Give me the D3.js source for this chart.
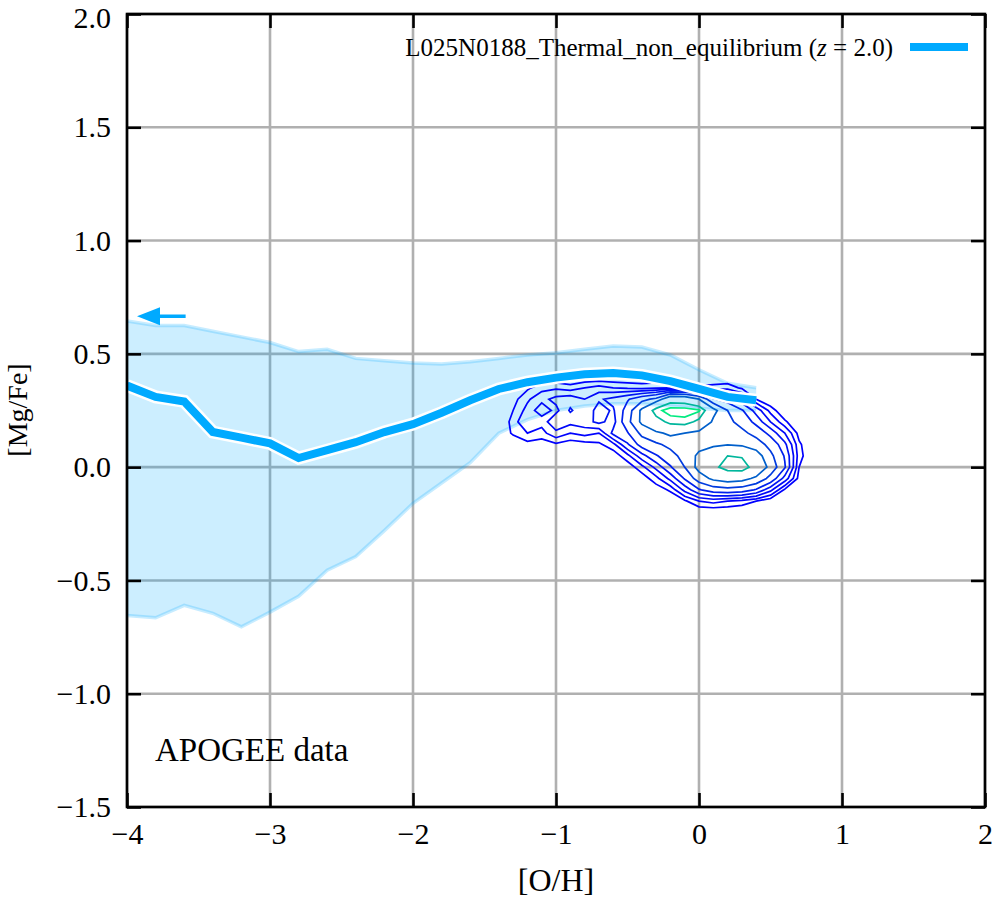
<!DOCTYPE html>
<html><head><meta charset="utf-8">
<script src="https://cdn.jsdelivr.net/npm/d3@7"></script>
<style>
body{margin:0;background:#fff}
svg{display:block}
text{font-family:"Liberation Serif","Times New Roman",serif;fill:#000}
</style>
</head><body>
<svg id="chart" width="996" height="900"></svg>
<script>
// ---- data ----
const ohBins = [-4.0,-3.8,-3.6,-3.4,-3.2,-3.0,-2.8,-2.6,-2.4,-2.2,-2.0,-1.8,-1.6,-1.4,-1.2,-1.0,-0.8,-0.6,-0.4,-0.2,0.0,0.2,0.4];
const mgfeMedian = [0.36,0.31,0.29,0.155,0.13,0.105,0.04,0.075,0.11,0.155,0.19,0.24,0.295,0.345,0.375,0.395,0.41,0.415,0.405,0.38,0.345,0.31,0.295];
const mgfeUpper  = [0.645,0.625,0.625,0.60,0.575,0.55,0.51,0.52,0.48,0.47,0.46,0.455,0.465,0.48,0.495,0.505,0.52,0.535,0.53,0.495,0.43,0.37,0.35];
const mgfeLower  = [-0.655,-0.665,-0.61,-0.645,-0.705,-0.64,-0.57,-0.455,-0.395,-0.28,-0.16,-0.07,0.02,0.15,0.21,0.25,0.27,0.28,0.28,0.27,0.26,0.25,0.25];

const xTicks = [-4,-3,-2,-1,0,1,2];
const yTicks = [-1.5,-1.0,-0.5,0.0,0.5,1.0,1.5,2.0];

// APOGEE density grid: columns [O/H] = -1.4 .. 0.8 (step 0.1), rows [Mg/Fe] = 0.45 .. -0.25 (step -0.05)
const apogeeOH0 = -1.4, apogeeDOH = 0.1, apogeeMg0 = 0.45, apogeeDMg = -0.05;
const apogeeDensity = [
  [0,0,0,0,0,0,0,0,0,0,0,0,0,0,0,0,0,0,0,0,0,0,0],
  [0,0,0,0,0,0,0,0,0,0,0,0,0,0,0,0,0,0,0,0,0,0,0],
  [0,0,4,8,9,7,10,12,10,9,8,9,10,8,6,7,8,4,0,0,0,0,0],
  [0,3,9,14,18,20,16,22,25,30,38,45,70,68,55,32,26,18,5,0,0,0,0],
  [0,5,12,20,14,24,18,26,22,35,58,88,100,100,95,60,42,32,20,8,0,0,0],
  [0,7,16,12,22,18,20,25,20,38,58,72,85,88,75,52,45,38,28,16,6,0,0],
  [0,6,10,8,14,10,12,10,25,30,45,52,58,55,50,48,47,45,38,28,16,3,0],
  [0,0,3,2,4,2,3,4,8,22,35,40,45,50,50,52,54,52,48,38,25,6,0],
  [0,0,0,0,0,0,0,0,2,8,20,30,38,46,58,68,80,78,62,45,30,7,0],
  [0,0,0,0,0,0,0,0,0,2,8,18,30,42,60,75,88,90,70,50,32,5,0],
  [0,0,0,0,0,0,0,0,0,0,2,8,18,32,48,58,62,60,52,38,20,3,0],
  [0,0,0,0,0,0,0,0,0,0,0,2,6,18,30,36,38,36,30,18,4,0,0],
  [0,0,0,0,0,0,0,0,0,0,0,0,0,4,10,12,10,8,5,1,0,0,0],
  [0,0,0,0,0,0,0,0,0,0,0,0,0,0,0,0,0,0,0,0,0,0,0],
  [0,0,0,0,0,0,0,0,0,0,0,0,0,0,0,0,0,0,0,0,0,0,0]
];
const contourLevels = [5,10,16,23,31,42,55,80,93];

const limitArrow = {y:0.666, from:-3.59, to:-3.93};
const legendLabel = "L025N0188_Thermal_non_equilibrium";
const legendRedshift = "2.0";

// ---- layout ----
const L = 127, R = 985, T = 14, B = 807;
const svg = d3.select("#chart");
const x = d3.scaleLinear().domain([-4,2]).range([L,R]);
const y = d3.scaleLinear().domain([-1.5,2]).range([B,T]);
const blue = "#00aaff";

svg.append("defs").append("clipPath").attr("id","clip")
  .append("rect").attr("x",L).attr("y",T).attr("width",R-L).attr("height",B-T);

// grid
const grid = svg.append("g");
grid.selectAll("line.gx").data(xTicks).join("line")
  .attr("x1",d=>x(d)).attr("x2",d=>x(d)).attr("y1",T).attr("y2",B)
  .attr("stroke","#b0b0b0").attr("stroke-width",2.6);
grid.selectAll("line.gy").data(yTicks).join("line")
  .attr("y1",d=>y(d)).attr("y2",d=>y(d)).attr("x1",L).attr("x2",R)
  .attr("stroke","#b0b0b0").attr("stroke-width",2.6);

const plot = svg.append("g").attr("clip-path","url(#clip)");

// band
const idx = d3.range(ohBins.length);
plot.append("path").datum(idx)
  .attr("d", d3.area().x(i=>x(ohBins[i])).y0(i=>y(mgfeLower[i])).y1(i=>y(mgfeUpper[i])))
  .attr("fill",blue).attr("fill-opacity",0.2);
[mgfeUpper, mgfeLower].forEach(arr=>{
  plot.append("path").datum(idx)
    .attr("d", d3.line().x(i=>x(ohBins[i])).y(i=>y(arr[i])))
    .attr("fill","none").attr("stroke",blue).attr("stroke-opacity",0.22).attr("stroke-width",3.5);
});

// contours
const ny = apogeeDensity.length, nx = apogeeDensity[0].length;
const flat = apogeeDensity.flat();
const cont = d3.contours().size([nx,ny]).thresholds(contourLevels)(flat);
const proj = d3.geoTransform({point:function(cx,cy){
  this.stream.point(x(apogeeOH0 + (cx-0.5)*apogeeDOH), y(apogeeMg0 + (cy-0.5)*apogeeDMg));
}});
const gpath = d3.geoPath(proj);
const lvMin = d3.min(contourLevels), lvMax = d3.max(contourLevels);
const winter = v => {
  const t = Math.pow((v-lvMin)/(lvMax-lvMin), 1.6);
  return d3.rgb(0, Math.round(235*t), Math.round(255*(1-0.5*t))).toString();
};
plot.append("g").selectAll("path").data(cont).join("path")
  .attr("d", gpath)
  .attr("fill","none")
  .attr("stroke",d=>winter(d.value))
  .attr("stroke-width",1.7)
  .attr("stroke-linejoin","miter");

// median line
const medLine = d3.line().x(i=>x(ohBins[i])).y(i=>y(mgfeMedian[i]));
plot.append("path").datum(idx).attr("d",medLine)
  .attr("fill","none").attr("stroke","#fff").attr("stroke-width",13);
plot.append("path").datum(idx).attr("d",medLine)
  .attr("fill","none").attr("stroke",blue).attr("stroke-width",8);

// arrow
const ax0 = x(limitArrow.from), ax1 = x(limitArrow.to), ay = y(limitArrow.y);
svg.append("line").attr("x1",ax0).attr("x2",ax1+20).attr("y1",ay).attr("y2",ay)
  .attr("stroke",blue).attr("stroke-width",3.5);
svg.append("path").attr("d",`M${ax1},${ay} L${ax1+23},${ay-9} L${ax1+23},${ay+9} Z`).attr("fill",blue);

// axes
const tickLen = 14;
const axB = svg.append("g").attr("transform",`translate(0,${B})`)
  .call(d3.axisBottom(x).tickValues(xTicks).tickSizeInner(-tickLen).tickSizeOuter(0).tickPadding(16).tickFormat(d3.format("d")));
const axL = svg.append("g").attr("transform",`translate(${L},0)`)
  .call(d3.axisLeft(y).tickValues(yTicks).tickSizeInner(-tickLen).tickSizeOuter(0).tickPadding(16).tickFormat(d3.format(".1f")));
const axT = svg.append("g").attr("transform",`translate(0,${T})`)
  .call(d3.axisTop(x).tickValues(xTicks).tickSizeInner(-tickLen).tickSizeOuter(0).tickFormat(""));
const axR = svg.append("g").attr("transform",`translate(${R},0)`)
  .call(d3.axisRight(y).tickValues(yTicks).tickSizeInner(-tickLen).tickSizeOuter(0).tickFormat(""));
[axB,axL,axT,axR].forEach(a=>{
  a.select(".domain").remove();
  a.selectAll(".tick line").attr("stroke","#000").attr("stroke-width",2.6);
  a.selectAll(".tick text").attr("font-size",30).attr("font-family","Liberation Serif");
});
// keep the top label inside the picture
axL.selectAll(".tick text").filter(d=>d===2).attr("dy","0.45em");
svg.append("rect").attr("x",L).attr("y",T).attr("width",R-L).attr("height",B-T)
  .attr("fill","none").attr("stroke","#000").attr("stroke-width",2.6);

// legend
const lg = svg.append("text").attr("x",893).attr("y",56).attr("text-anchor","end").attr("font-size",25);
lg.append("tspan").text(legendLabel + " (");
lg.append("tspan").attr("font-style","italic").text("z");
lg.append("tspan").text(" = " + legendRedshift + ")");
svg.append("line").attr("x1",910).attr("x2",968).attr("y1",47).attr("y2",47)
  .attr("stroke",blue).attr("stroke-width",8);

// annotation
svg.append("text").attr("x",155).attr("y",761).attr("font-size",33).text("APOGEE data");

// axis labels
svg.append("text").attr("x",(L+R)/2).attr("y",891).attr("text-anchor","middle").attr("font-size",32).text("[O/H]");
svg.append("text").attr("transform",`translate(27,410) rotate(-90)`).attr("text-anchor","middle").attr("font-size",28).text("[Mg/Fe]");
</script>
</body></html>
